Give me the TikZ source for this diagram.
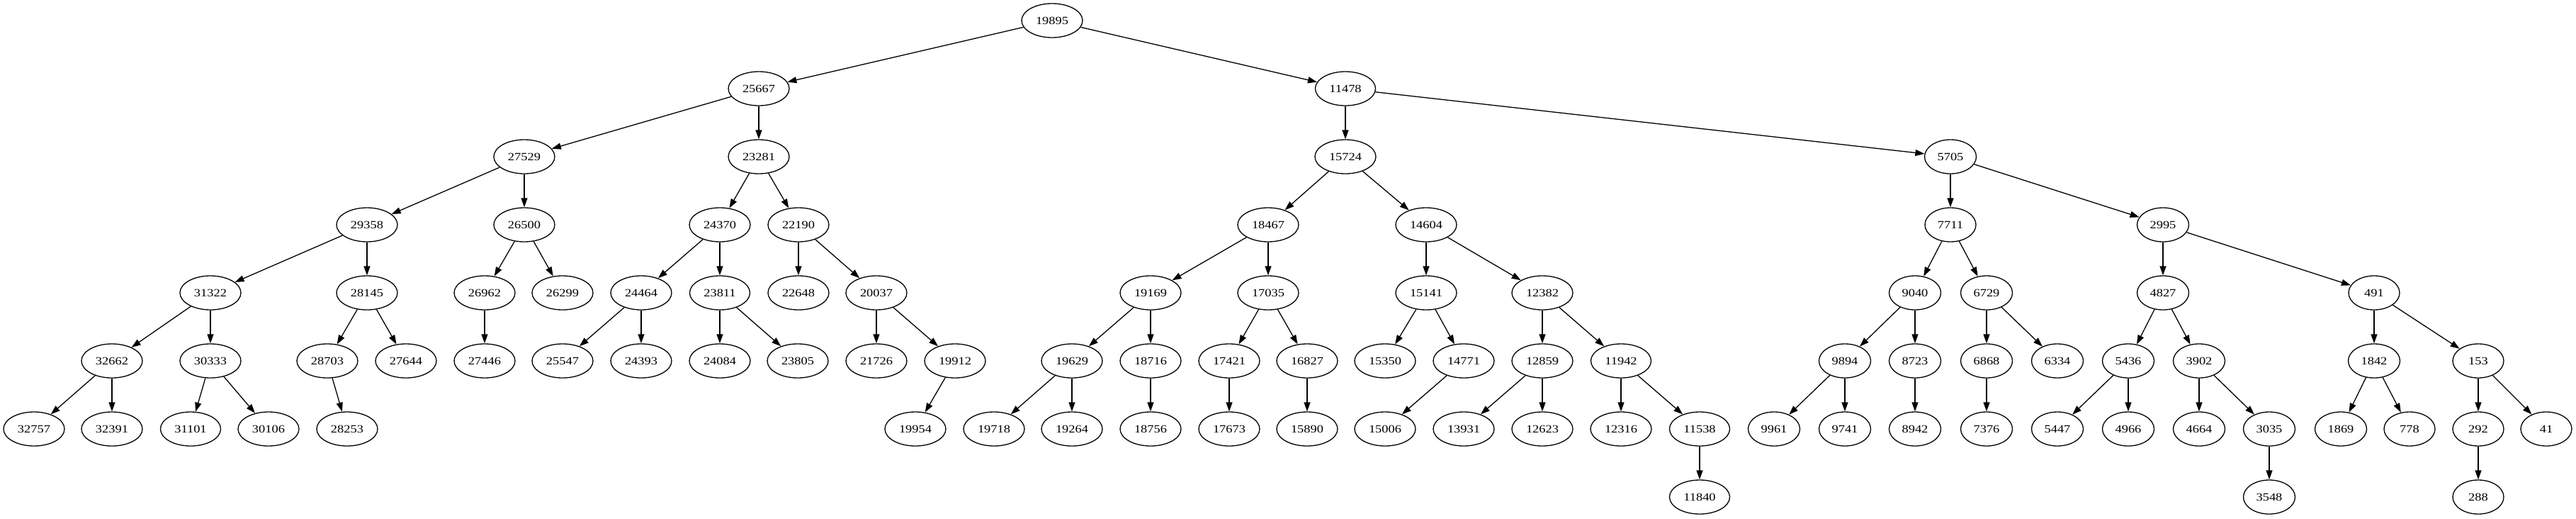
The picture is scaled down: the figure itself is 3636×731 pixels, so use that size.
\documentclass[tikz,border=0pt]{standalone}
\usepackage{fontspec}
\newfontfamily\numfont[FakeStretch=1.18]{Liberation Serif}
\usetikzlibrary{shapes.geometric,arrows.meta}
\tikzset{vertex/.style={draw, ellipse, line width=1.3pt, minimum width=72pt, minimum height=48pt,
    inner xsep=7.4pt, inner ysep=2pt, font=\numfont\fontsize{15.6}{18}\selectfont}}
\begin{document}
\begin{tikzpicture}[x=1pt, y=-1pt, line join=round, >={Triangle[length=13pt,width=9pt]}, line width=1.3pt] %cay heap
    \useasboundingbox (0,0) rectangle (3636,731);
    \foreach \x/\y/\t in {1485/29/19895,
        1071/125/25667, 1899/125/11478,
        740/221/27529, 1071/221/23281, 1899/221/15724, 2753/221/5705,
        518/317/29358, 740/317/26500, 1016/317/24370, 1127/317/22190, 1790/317/18467, 2013/317/14604, 2753/317/7711, 3053/317/2995,
        297/413/31322, 518/413/28145, 684/413/26962, 794/413/26299, 905/413/24464, 1016/413/23811, 1127/413/22648, 1237/413/20037,
        1624/413/19169, 1790/413/17035, 2013/413/15141, 2177/413/12382, 2703/413/9040, 2804/413/6729, 3053/413/4827, 3351/413/491,
        158/509/32662, 297/509/30333, 462/509/28703, 573/509/27644, 684/509/27446, 794/509/25547, 905/509/24393, 1016/509/24084,
        1126/509/23805, 1237/509/21726, 1348/509/19912, 1513/509/19629, 1624/509/18716, 1735/509/17421, 1845/509/16827, 1955/509/15350,
        2066/509/14771, 2177/509/12859, 2288/509/11942, 2604/509/9894, 2703/509/8723, 2804/509/6868, 2904/509/6334, 3004/509/5436,
        3104/509/3902, 3351/509/1842, 3498/509/153,
        48/605/32757, 158/605/32391, 269/605/31101, 379/605/30106, 490/605/28253, 1292/605/19954, 1403/605/19718, 1513/605/19264,
        1624/605/18756, 1735/605/17673, 1845/605/15890, 1955/605/15006, 2066/605/13931, 2177/605/12623, 2288/605/12316, 2399/605/11538,
        2504/605/9961, 2604/605/9741, 2703/605/8942, 2804/605/7376, 2904/605/5447, 3004/605/4966, 3104/605/4664, 3203/605/3035,
        3304/605/1869, 3401/605/778, 3498/605/292, 3594/605/41,
        2399/701/11840, 3203/701/3548, 3498/701/288}
        \node[vertex] (n\t) at (\x,\y) {\t};
    \foreach \a/\b in {19895/25667, 19895/11478, 25667/27529, 25667/23281, 11478/15724, 11478/5705,
        27529/29358, 27529/26500, 23281/24370, 23281/22190, 15724/18467, 15724/14604, 5705/7711, 5705/2995,
        29358/31322, 29358/28145, 26500/26962, 26500/26299, 24370/24464, 24370/23811, 22190/22648, 22190/20037,
        18467/19169, 18467/17035, 14604/15141, 14604/12382, 7711/9040, 7711/6729, 2995/4827, 2995/491,
        31322/32662, 31322/30333, 28145/28703, 28145/27644, 26962/27446, 24464/25547, 24464/24393,
        23811/24084, 23811/23805, 20037/21726, 20037/19912, 19169/19629, 19169/18716, 17035/17421, 17035/16827,
        15141/15350, 15141/14771, 12382/12859, 12382/11942, 9040/9894, 9040/8723, 6729/6868, 6729/6334,
        4827/5436, 4827/3902, 491/1842, 491/153,
        32662/32757, 32662/32391, 30333/31101, 30333/30106, 28703/28253, 19912/19954, 19629/19718, 19629/19264,
        18716/18756, 17421/17673, 16827/15890, 14771/15006, 12859/13931, 12859/12623, 11942/12316, 11942/11538,
        9894/9961, 9894/9741, 8723/8942, 6868/7376, 5436/5447, 5436/4966, 3902/4664, 3902/3035,
        1842/1869, 1842/778, 153/292, 153/41, 11538/11840, 3035/3548, 292/288}
        \draw[->] (n\a) -- (n\b);
\end{tikzpicture}
\end{document}
